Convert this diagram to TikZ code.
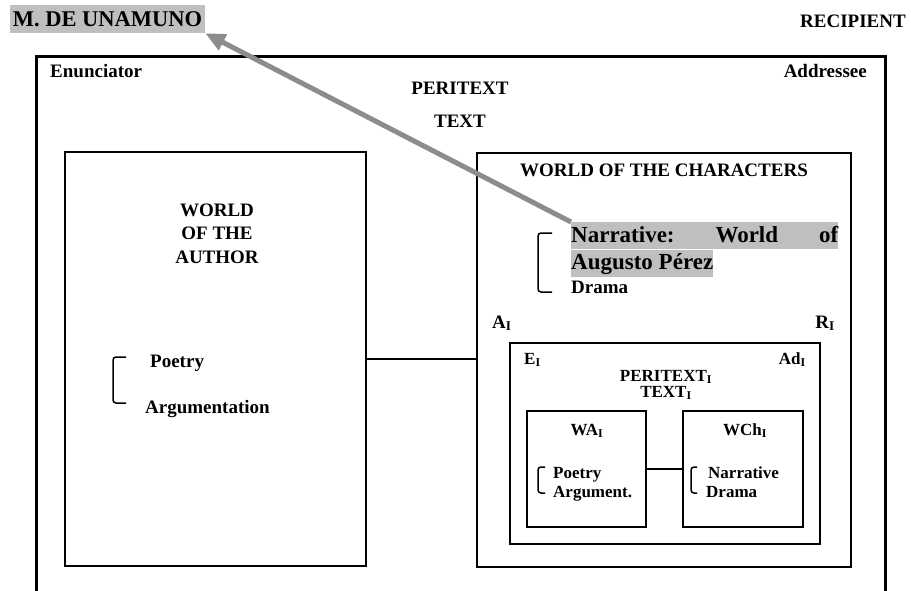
\documentclass[tikz,border=0pt]{standalone}
\usepackage{fontspec}
\setmainfont{Liberation Serif}
\usetikzlibrary{positioning,arrows.meta}
\newcommand{\ssub}[1]{\textsubscript{#1}}

\begin{document}
\begin{tikzpicture}[x=1pt, y=-1pt,
  frame/.style={draw, line width=2.5pt, inner sep=0pt},
  lbl/.style={inner sep=0pt, font=\fontsize{19}{21}\selectfont\bfseries},
  sml/.style={inner sep=0pt, font=\fontsize{17}{19}\selectfont\bfseries},
  hilite/.style={fill=black!25, inner sep=0pt},
  brk/.style={line width=1.5pt, rounded corners=3pt},
  link/.style={line width=2.5pt},
  arr/.style={-{Triangle[length=20pt,width=17pt]}, line width=5pt, draw=black!45}]
\useasboundingbox (0,0) rectangle (911,591);
% outer frame, open at the bottom
\coordinate (fbl) at (36,591); \coordinate (ftl) at (36,57);
\coordinate (ftr) at (885,57); \coordinate (fbr) at (885,591);
\draw[line width=3pt] (fbl) -- (ftl) -- (ftr) -- (fbr);
\node[hilite, minimum width=195pt, minimum height=28pt, text height=19pt, text depth=3pt,
  font=\fontsize{22.5}{24}\selectfont\bfseries] (unam) at (107.5,19) {M. DE UNAMUNO};
\node[lbl, anchor=base east] (recip) at (906,28) {RECIPIENT};
\node[lbl, anchor=base west] (enun) at (50,78) {Enunciator};
\node[lbl, anchor=base east] (addr) at (867,78) {Addressee};
\node[lbl, anchor=base] (peri) at (460,95) {PERITEXT};
\node[lbl, anchor=base] (text) at (460,128) {TEXT};
% world of the author
\node[frame, minimum width=301pt, minimum height=414pt] (author) at (215.5,359) {};
\node[lbl, anchor=base] (wa1) at (217,217) {WORLD};
\node[lbl, anchor=base] (wa2) at (217,240) {OF THE};
\node[lbl, anchor=base] (wa3) at (217,263) {AUTHOR};
\node[lbl, anchor=base west] (poe) at (150,367) {Poetry};
\node[lbl, anchor=base west] (arg) at (145,413) {Argumentation};
\draw[brk] (126,357) -- (113,357) -- (113,403) -- (126,403);
% world of the characters
\node[frame, minimum width=374pt, minimum height=414pt] (chars) at (664,360) {};
\node[lbl, anchor=base] (wch) at (664,177) {WORLD OF THE CHARACTERS};
\node[hilite, minimum width=267pt, text width=267pt, text height=20pt, text depth=7pt,
  font=\fontsize{23}{25}\selectfont\bfseries, anchor=north west] (narr1) at (571,222)
  {Narrative:\hfill World\hfill of};
\node[hilite, text height=20pt, text depth=7pt, font=\fontsize{23}{25}\selectfont\bfseries,
  anchor=north west] (narr2) at (narr1.south west) {Augusto Pérez};
\node[lbl, anchor=base west] (drama) at (571,293) {Drama};
\draw[brk] (552,233) -- (538,233) -- (538,292) -- (552,292);
\node[lbl, anchor=base west] (ai) at (492,328) {A\ssub{I}};
\node[lbl, anchor=base east] (ri) at (835,328) {R\ssub{I}};
% embedded communication
\node[frame, minimum width=310pt, minimum height=201pt] (inner) at (665,443.5) {};
\node[sml, anchor=base west] (ei) at (524,364) {E\ssub{I}};
\node[sml, anchor=base east] (adi) at (806,364) {Ad\ssub{I}};
\node[sml, anchor=base] (perii) at (666,381) {PERITEXT\ssub{I}};
\node[sml, anchor=base] (texti) at (666,397) {TEXT\ssub{I}};
\node[frame, minimum width=119pt, minimum height=116pt] (wai) at (586.5,469) {};
\node[frame, minimum width=120pt, minimum height=116pt] (wchi) at (743,469) {};
\node[sml, anchor=base] (wailbl) at (587,435) {WA\ssub{I}};
\node[sml, anchor=base] (wchilbl) at (745,435) {WCh\ssub{I}};
\node[sml, anchor=base west] (poei) at (553,478) {Poetry};
\node[sml, anchor=base west] (argi) at (553,497) {Argument.};
\node[sml, anchor=base west] (narri) at (708,478) {Narrative};
\node[sml, anchor=base west] (drai) at (706,497) {Drama};
\draw[brk] (545,467) -- (538,467) -- (538,493) -- (545,493);
\draw[brk] (697,467) -- (691,467) -- (691,493) -- (697,493);
% connectors
\draw[link] (author.east) -- (author.east -| chars.west);
\draw[link] (wai) -- (wchi);
\draw[arr] (narr1.north west) -- (unam.south east);
\end{tikzpicture}
\end{document}
